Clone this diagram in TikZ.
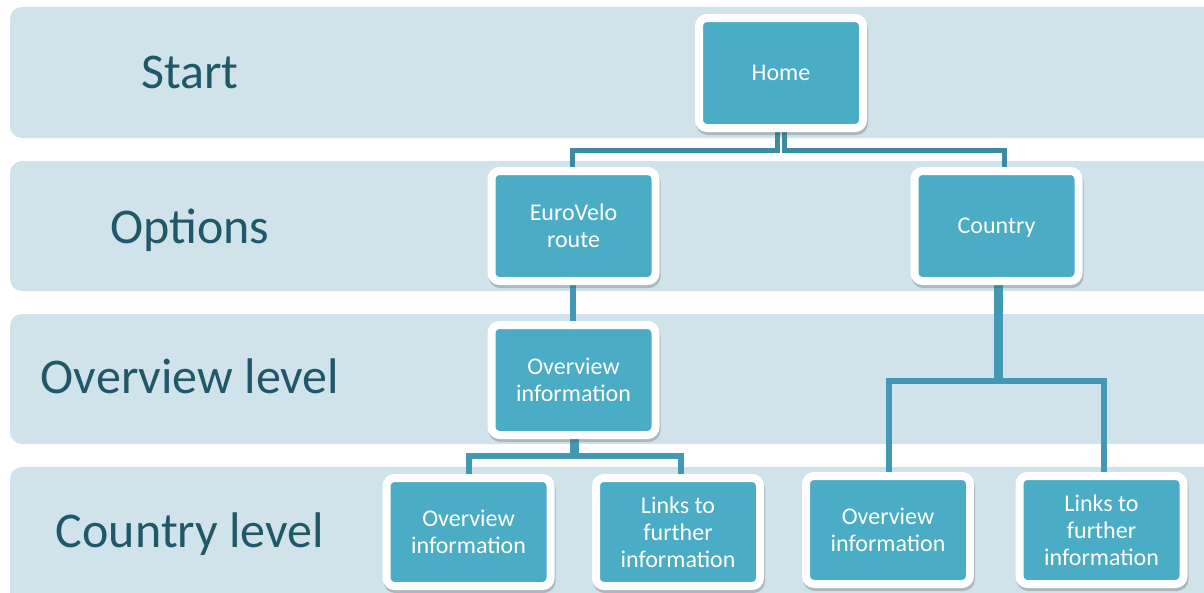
\documentclass[tikz,border=0pt]{standalone}
\usepackage{fontspec}
\setmainfont{Carlito}
\usetikzlibrary{shadows}

\definecolor{bandfill}{HTML}{D0E3EA}
\definecolor{boxfill}{HTML}{4BACC6}
\definecolor{bandtext}{HTML}{215868}
\definecolor{connA}{HTML}{3B8BA1}
\definecolor{connB}{HTML}{4398B3}

\tikzset{
  band/.style={fill=bandfill, draw=none, rounded corners=12pt},
  bandlabel/.style={text=bandtext, font=\fontsize{50}{58}\selectfont,
    inner sep=0pt, anchor=base},
  pagebox/.style={rectangle, rounded corners=8pt, fill=boxfill, draw=white,
    line width=8pt, minimum width=164pt, minimum height=110pt, inner sep=0pt,
    align=center, text=white, font=\fontsize{24}{27}\selectfont,
    drop shadow={shadow xshift=1pt, shadow yshift=-3pt, opacity=0.28,
      fill=black!70, draw=black!70, line width=8pt}},
  topconn/.style={draw=connA, line width=5pt},
  conn/.style={draw=connB, line width=5.5pt},
  stem/.style={draw=connB, line width=9pt}
}

\begin{document}
\begin{tikzpicture}[x=1pt, y=-1pt]
  \useasboundingbox (0,0) rectangle (1204,592);
  \fill[white] (0,0) rectangle (1204,592);

  % level bands
  \begin{scope}
    \clip (0,0) rectangle (1204,592);
    \path[band] (10,7)   rectangle (1220,138);
    \path[band] (10,161) rectangle (1220,291);
    \path[band] (10,314) rectangle (1220,444);
    \path[band] (10,467) rectangle (1220,620);
  \end{scope}

  % level labels
  \node[bandlabel] (lStart)    at (190,88)  {Start};
  \node[bandlabel] (lOptions)  at (190,243) {Options};
  \node[bandlabel] (lOverview) at (190,393) {Overview level};
  \node[bandlabel] (lCountry)  at (190,547) {Country level};

  % junction heights
  \coordinate (jTop)   at (0,150.5);

  % connectors (drawn first so the boxes sit on top)
  \coordinate (homeS)  at (781,128);
  \coordinate (evN)    at (572.5,226);
  \coordinate (ctryN)  at (1004.5,226);
  \draw[topconn] ([xshift=-3.5pt]homeS) -- ([xshift=-3.5pt]homeS |- jTop) -| (evN);
  \draw[topconn] ([xshift=3.5pt]homeS) -- ([xshift=3.5pt]homeS |- jTop) -| (ctryN);
  \draw[conn] (573,226) -- (573,380);

  \draw[stem] (574.5,380) -- (574.5,458);
  \draw[conn] (469,532) -- (469,456) -- (681,456) -- (681,532);

  \draw[stem] (998.5,226) -- (998.5,383);
  \draw[conn] (889,530) -- (889,381) -- (1104,381) -- (1104,530);

  % page boxes
  \node[pagebox] (home) at (781,73)    {Home};
  \node[pagebox] (ev)   at (573.5,226) {EuroVelo\\route};
  \node[pagebox, text depth=0pt] (ctry) at (996.5,226) {Country};
  \node[pagebox] (ov)   at (573.5,380) {Overview\\information};
  \node[pagebox, minimum height=108pt] (ovA) at (468.5,532) {Overview\\information};
  \node[pagebox, minimum height=108pt] (lkA) at (678,532)   {Links to\\further\\information};
  \node[pagebox, minimum height=108pt] (ovB) at (888,530)   {Overview\\information};
  \node[pagebox, minimum height=108pt] (lkB) at (1101.5,530) {Links to\\further\\information};
\end{tikzpicture}
\end{document}
